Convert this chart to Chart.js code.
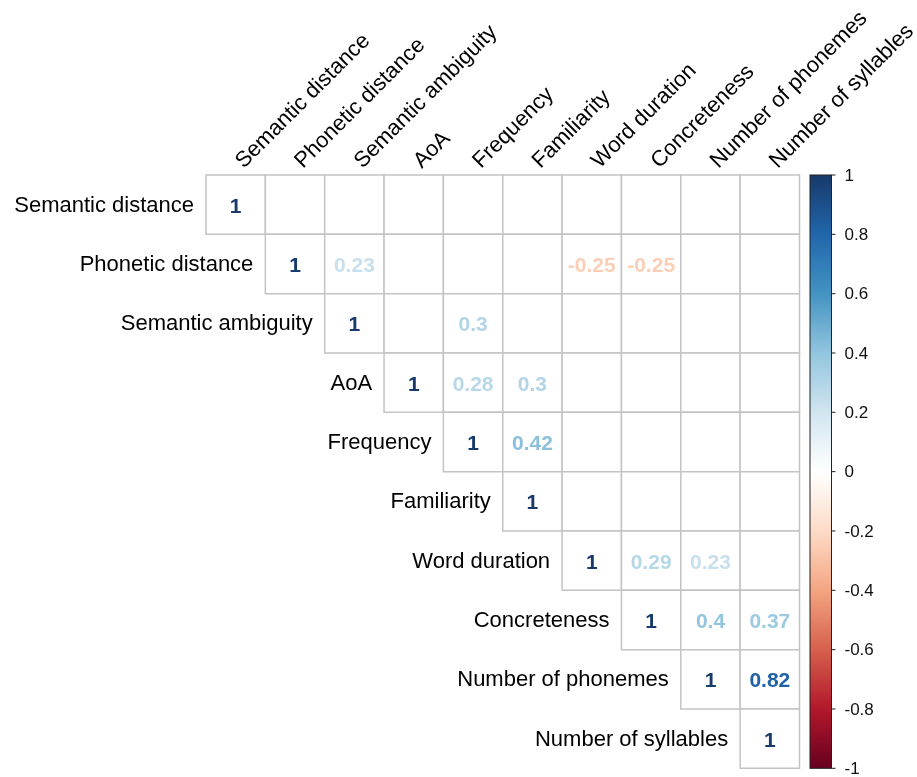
<!DOCTYPE html>
<html>
<head>
<meta charset="utf-8">
<script src="https://cdn.jsdelivr.net/npm/chart.js@4"></script>
<style>
  html, body { margin: 0; padding: 0; background: #fff; }
  #wrap { width: 917px; height: 777px; }
</style>
</head>
<body>
<div id="wrap"><canvas id="chart"></canvas></div>
<script>
const variables = [
  "Semantic distance", "Phonetic distance", "Semantic ambiguity", "AoA",
  "Frequency", "Familiarity", "Word duration", "Concreteness",
  "Number of phonemes", "Number of syllables",
];

// upper triangle only (col >= row); null = blank cell
const corrRows = [
  [1, null, null, null, null, null, null, null, null, null],
  [null, 1, 0.23, null, null, null, -0.25, -0.25, null, null],
  [null, null, 1, null, 0.3, null, null, null, null, null],
  [null, null, null, 1, 0.28, 0.3, null, null, null, null],
  [null, null, null, null, 1, 0.42, null, null, null, null],
  [null, null, null, null, null, 1, null, null, null, null],
  [null, null, null, null, null, null, 1, 0.29, 0.23, null],
  [null, null, null, null, null, null, null, 1, 0.4, 0.37],
  [null, null, null, null, null, null, null, null, 1, 0.82],
  [null, null, null, null, null, null, null, null, null, 1],
];

const colorbarTicks = [1, 0.8, 0.6, 0.4, 0.2, 0, -0.2, -0.4, -0.6, -0.8, -1];

// RdBu palette, -1 .. 1
const palette = [
  "#67001F", "#B2182B", "#D6604D", "#F4A582", "#FDDBC7", "#FFFFFF",
  "#D1E5F0", "#92C5DE", "#4393C3", "#2166AC", "#18396B",
];

function hexToRgb(h) {
  return [1, 3, 5].map((i) => parseInt(h.slice(i, i + 2), 16));
}

function colorFor(v) {
  const pos = ((v + 1) / 2) * (palette.length - 1);
  const i = Math.min(Math.floor(pos), palette.length - 2);
  const t = pos - i;
  const a = hexToRgb(palette[i]);
  const b = hexToRgb(palette[i + 1]);
  const c = a.map((x, k) => Math.round(x + (b[k] - x) * t));
  return `rgb(${c[0]},${c[1]},${c[2]})`;
}

const cells = [];
corrRows.forEach((row, r) => {
  row.forEach((v, c) => {
    if (c >= r) cells.push({ x: c + 0.5, y: r + 0.5, v });
  });
});

const FONT = "'Liberation Sans', Arial, Helvetica, sans-serif";

const corrPlugin = {
  id: "corrLabels",
  afterDatasetsDraw(chart) {
    const { ctx, scales } = chart;
    const xs = scales.x, ys = scales.y, cb = scales.cb;

    // numbers in cells
    ctx.save();
    ctx.font = `bold 21px ${FONT}`;
    ctx.textAlign = "center";
    ctx.textBaseline = "alphabetic";
    cells.forEach((d) => {
      if (d.v === null) return;
      ctx.fillStyle = colorFor(d.v);
      ctx.fillText(String(d.v), xs.getPixelForValue(d.x), ys.getPixelForValue(d.y) + 8);
    });

    // row labels, right-aligned next to the diagonal
    ctx.font = `22px ${FONT}`;
    ctx.fillStyle = "#000";
    ctx.textAlign = "right";
    variables.forEach((name, i) => {
      ctx.fillText(name, xs.getPixelForValue(i) - 12, ys.getPixelForValue(i + 0.5) + 7);
    });

    // column labels, rotated 45 degrees
    ctx.textAlign = "left";
    variables.forEach((name, i) => {
      ctx.save();
      ctx.translate(xs.getPixelForValue(i + 0.5) + 8, ys.getPixelForValue(0) - 6);
      ctx.rotate(-Math.PI / 4);
      ctx.fillText(name, 0, 0);
      ctx.restore();
    });

    // colour bar
    const top = cb.getPixelForValue(1), bottom = cb.getPixelForValue(-1);
    const left = chart.chartArea.right + 10.5, right = left + 21.5;
    const grad = ctx.createLinearGradient(0, bottom, 0, top);
    palette.forEach((col, i) => grad.addColorStop(i / (palette.length - 1), col));
    ctx.fillStyle = grad;
    ctx.fillRect(left, top, right - left, bottom - top);
    ctx.strokeStyle = "#222";
    ctx.lineWidth = 1;
    ctx.strokeRect(left, top, right - left, bottom - top);

    ctx.font = `17px ${FONT}`;
    ctx.fillStyle = "#111";
    ctx.textAlign = "left";
    ctx.textBaseline = "middle";
    colorbarTicks.forEach((t) => {
      const y = cb.getPixelForValue(t);
      ctx.beginPath();
      ctx.moveTo(right, y);
      ctx.lineTo(right + 4, y);
      ctx.stroke();
      ctx.fillText(String(t), right + 13, y + 1);
    });
    ctx.restore();
  },
};

const ctx = document.getElementById("chart").getContext("2d");

new Chart(ctx, {
  type: "scatter",
  data: {
    datasets: [
      {
        data: cells,
        pointStyle: "rect",
        radius: (c) => {
          const xs = c.chart.scales.x;
          return (xs.getPixelForValue(1) - xs.getPixelForValue(0)) / Math.SQRT2;
        },
        backgroundColor: "#ffffff",
        borderColor: "#c4c4c4",
        borderWidth: 1.5,
        clip: false,
      },
    ],
  },
  plugins: [corrPlugin],
  options: {
    responsive: true,
    maintainAspectRatio: false,
    animation: false,
    events: [],
    layout: {
      padding: { left: 206, top: 175, right: 117.5, bottom: 8.7 },
    },
    plugins: {
      legend: { display: false },
      tooltip: { enabled: false },
    },
    scales: {
      x: { type: "linear", min: 0, max: 10, display: false },
      y: { type: "linear", min: 0, max: 10, reverse: true, display: false },
      cb: { type: "linear", axis: "y", min: -1, max: 1, display: false },
    },
  },
});
</script>
</body>
</html>
